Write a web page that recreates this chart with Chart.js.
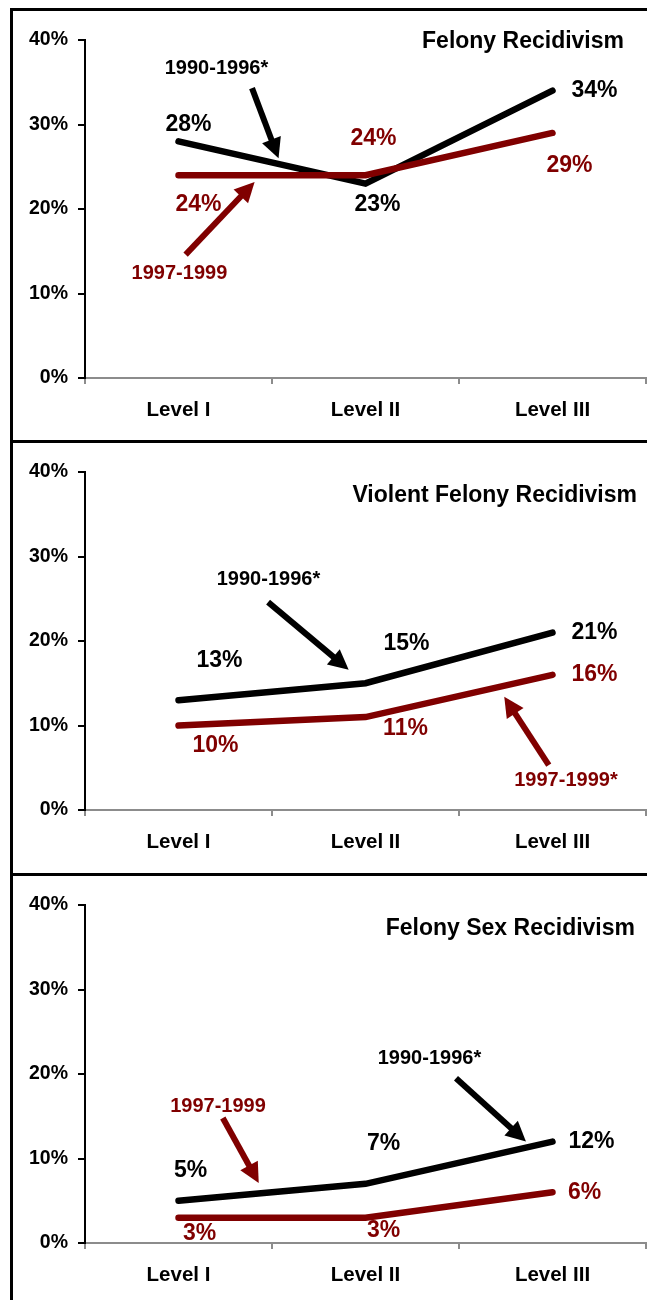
<!DOCTYPE html>
<html>
<head>
<meta charset="utf-8">
<script src="https://cdn.jsdelivr.net/npm/chart.js@4.4.0/dist/chart.umd.min.js"></script>
<style>
  body { margin: 0; background: #fff; width: 647px; height: 1300px; position: relative; overflow: hidden; }
  .frame { position: absolute; left: 10px; top: 8px; width: 650px; height: 1300px; border-left: 3px solid #000; border-top: 3px solid #000; }
  .sep { position: absolute; left: 10px; width: 650px; height: 3px; background: #000; }
  canvas { position: absolute; left: 0; }
</style>
</head>
<body>
<div class="frame"></div>
<div class="sep" style="top:440px"></div>
<div class="sep" style="top:873px"></div>
<canvas id="felony" width="647" height="432" style="top:9px"></canvas>
<canvas id="violent" width="647" height="432" style="top:441px"></canvas>
<canvas id="sex" width="647" height="432" style="top:874px"></canvas>
<script>
// categories and values (recidivism rate, %)
const levels = ['Level I', 'Level II', 'Level III'];
const yMax = 40;
const yStep = 10;

const felony9096 = [28, 23, 34];
const felony9799 = [24, 24, 29];
const violent9096 = [13, 15, 21];
const violent9799 = [10, 11, 16];
const sex9096 = [5, 7, 12];
const sex9799 = [3, 3, 6];

const FONT = '"Liberation Sans", Arial, sans-serif';
const BLACK = '#000000';
const RED = '#800000';

// draws the panel title, value labels and the period call-outs with arrows
const notesPlugin = {
    id: 'notes',
    afterDatasetsDraw(chart, args, opts) {
        const { ctx, chartArea, scales } = chart;
        const x = scales.x, y = scales.y;
        ctx.save();

        ctx.font = 'bold 23px ' + FONT;
        ctx.fillStyle = BLACK;
        ctx.textAlign = 'right';
        ctx.textBaseline = 'alphabetic';
        ctx.fillText(opts.title, chartArea.right - opts.titleRight, chartArea.top + opts.titleDown);

        ctx.textAlign = 'center';
        ctx.textBaseline = 'middle';
        chart.data.datasets.forEach((ds, di) => {
            const meta = chart.getDatasetMeta(di);
            ctx.fillStyle = ds.borderColor;
            ctx.font = 'bold 23px ' + FONT;
            ds.data.forEach((v, i) => {
                const p = meta.data[i];
                const off = opts.offsets[di][i];
                ctx.fillText(v + '%', p.x + off[0], p.y + off[1]);
            });
        });

        opts.callouts.forEach(c => {
            const px = v => [x.getPixelForValue(v[0]), y.getPixelForValue(v[1])];
            const at = px(c.at), from = px(c.from), to = px(c.to);
            ctx.fillStyle = c.color;
            ctx.strokeStyle = c.color;
            ctx.font = 'bold 20px ' + FONT;
            ctx.fillText(c.text, at[0], at[1]);

            const ang = Math.atan2(to[1] - from[1], to[0] - from[0]);
            const headLen = 20, headHalf = 10;
            const bx = to[0] - Math.cos(ang) * headLen;
            const by = to[1] - Math.sin(ang) * headLen;
            ctx.lineWidth = 6;
            ctx.lineCap = 'butt';
            ctx.beginPath();
            ctx.moveTo(from[0], from[1]);
            ctx.lineTo(bx + Math.cos(ang) * 2, by + Math.sin(ang) * 2);
            ctx.stroke();
            ctx.beginPath();
            ctx.moveTo(to[0], to[1]);
            ctx.lineTo(bx - Math.sin(ang) * headHalf, by + Math.cos(ang) * headHalf);
            ctx.lineTo(bx + Math.sin(ang) * headHalf, by - Math.cos(ang) * headHalf);
            ctx.closePath();
            ctx.fill();
        });
        ctx.restore();
    }
};

function makeChart(id, recent, early, notes) {
    return new Chart(document.getElementById(id).getContext('2d'), {
        type: 'line',
        data: {
            labels: levels,
            datasets: [
                { label: notes.recentLabel, data: recent, borderColor: RED },
                { label: '1990-1996*', data: early, borderColor: BLACK }
            ].map(d => Object.assign(d, {
                borderWidth: 6.5,
                borderCapStyle: 'round',
                borderJoinStyle: 'miter',
                pointRadius: 0,
                tension: 0,
                fill: false
            }))
        },
        options: {
            responsive: false,
            animation: false,
            events: [],
            layout: { padding: { top: 31, left: 0, right: 1, bottom: 0 } },
            scales: {
                x: {
                    offset: true,
                    grid: { offset: true, drawOnChartArea: false, tickLength: 6, color: '#8c8c8c', lineWidth: 2 },
                    border: { color: '#8c8c8c', width: 2 },
                    ticks: { color: BLACK, font: { family: FONT, size: 20.5, weight: 'bold' }, padding: 14, maxRotation: 0, autoSkip: false },
                    afterFit(s) { s.height = 63; }
                },
                y: {
                    min: 0,
                    max: yMax,
                    ticks: { stepSize: yStep, color: BLACK, padding: 10, font: { family: FONT, size: 19.5, weight: 'bold' }, callback: v => v + '%' },
                    grid: { drawOnChartArea: false, tickLength: 7, color: BLACK, lineWidth: 2 },
                    border: { color: BLACK, width: 2 },
                    afterFit(s) { s.width = 85; }
                }
            },
            plugins: {
                legend: { display: false },
                tooltip: { enabled: false },
                notes: notes
            }
        },
        plugins: [notesPlugin]
    });
}

makeChart('felony', felony9799, felony9096, {
    title: 'Felony Recidivism', titleRight: 22, titleDown: 8,
    recentLabel: '1997-1999',
    offsets: [
        [[20, 29], [8, -37], [17, 33]],
        [[10, -17], [12, 21], [42, 0]]
    ],
    callouts: [
        { text: '1990-1996*', color: BLACK, at: [0.203, 36.6], from: [0.393, 34.3], to: [0.535, 26.0] },
        { text: '1997-1999', color: RED, at: [0.005, 12.4], from: [0.038, 14.6], to: [0.407, 23.2] }
    ]
});

makeChart('violent', violent9799, violent9096, {
    title: 'Violent Felony Recidivism', titleRight: 9, titleDown: 30,
    recentLabel: '1997-1999*',
    offsets: [
        [[37, 20], [40, 12], [42, 0]],
        [[41, -39], [41, -40], [42, 0]]
    ],
    callouts: [
        { text: '1990-1996*', color: BLACK, at: [0.481, 27.3], from: [0.479, 24.6], to: [0.91, 16.6] },
        { text: '1997-1999*', color: RED, at: [2.072, 3.5], from: [1.98, 5.3], to: [1.742, 13.4] }
    ]
});

makeChart('sex', sex9799, sex9096, {
    title: 'Felony Sex Recidivism', titleRight: 11, titleDown: 30,
    recentLabel: '1997-1999',
    offsets: [
        [[21, 16], [18, 13], [32, 0]],
        [[12, -30], [18, -40], [39, 0]]
    ],
    callouts: [
        { text: '1990-1996*', color: BLACK, at: [1.342, 21.8], from: [1.484, 19.5], to: [1.858, 12.0] },
        { text: '1997-1999', color: RED, at: [0.211, 16.1], from: [0.237, 14.8], to: [0.429, 7.1] }
    ]
});
</script>
</body>
</html>
